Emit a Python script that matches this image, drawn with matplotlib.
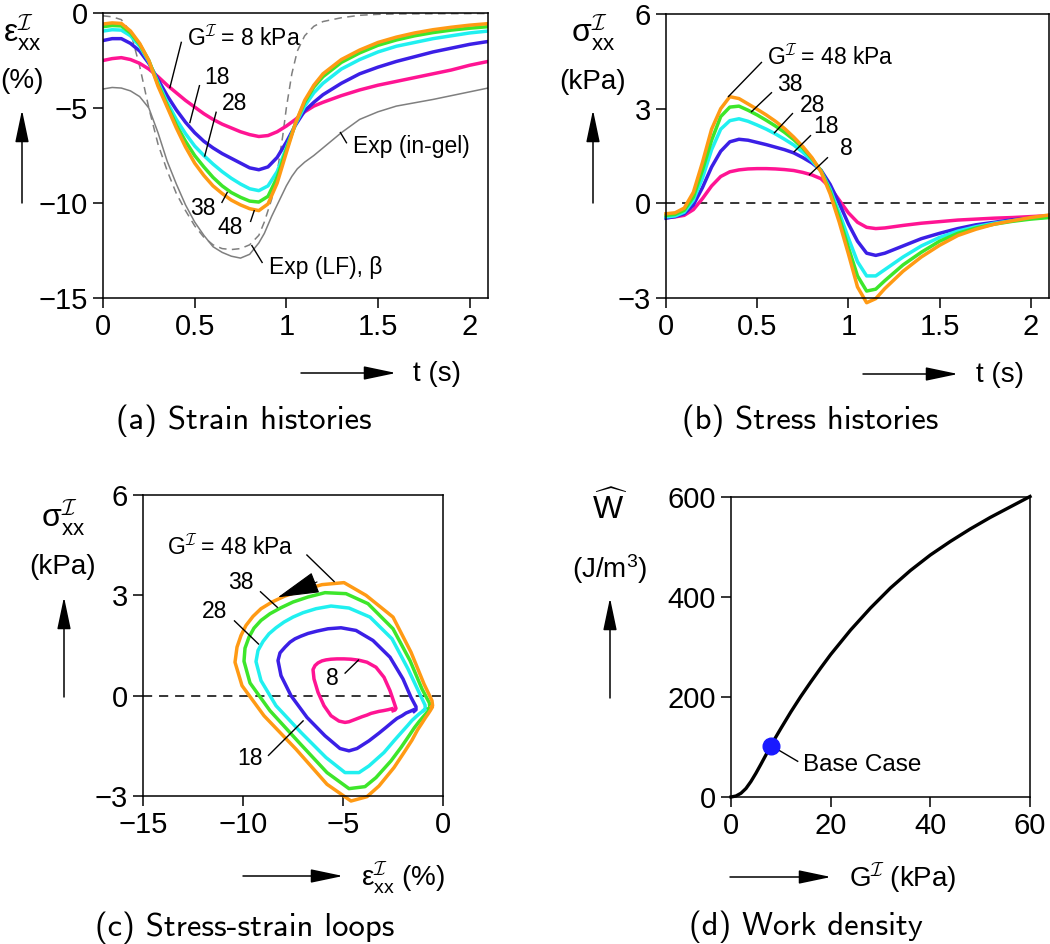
import numpy as np
import matplotlib
matplotlib.use('Agg')
import matplotlib.pyplot as plt
from matplotlib.patches import FancyArrowPatch

plt.rcParams['font.family'] = ['Liberation Sans', 'DejaVu Sans']
plt.rcParams['mathtext.fontset'] = 'custom'
plt.rcParams['mathtext.rm'] = 'Liberation Sans'
plt.rcParams['mathtext.it'] = 'Liberation Sans:italic'
plt.rcParams['mathtext.bf'] = 'Liberation Sans:bold'
plt.rcParams['mathtext.sf'] = 'Liberation Sans'
plt.rcParams['mathtext.cal'] = 'cmsy10'

# ---------------- data ----------------
t = [0, 0.05, 0.1, 0.15, 0.2, 0.25, 0.3, 0.35, 0.4, 0.45, 0.5, 0.55, 0.6, 0.65, 0.7,
     0.75, 0.8, 0.85, 0.9, 0.95, 1.0, 1.05, 1.1, 1.15, 1.2, 1.3, 1.4, 1.5, 1.6, 1.7,
     1.8, 1.9, 2.0, 2.1]

G_values = [8, 18, 28, 38, 48]

strain_8 = [-2.5, -2.4, -2.35, -2.45, -2.65, -2.95, -3.35, -3.8, -4.2, -4.6, -4.95, -5.3, -5.6,
            -5.85, -6.05, -6.25, -6.4, -6.5, -6.45, -6.25, -5.95, -5.6, -5.2, -4.9, -4.7, -4.35,
            -4.05, -3.8, -3.6, -3.4, -3.2, -3.0, -2.75, -2.55]
strain_18 = [-1.45, -1.35, -1.35, -1.6, -2.0, -2.65, -3.5, -4.35, -5.1, -5.75, -6.3, -6.75, -7.1,
             -7.4, -7.65, -7.9, -8.15, -8.25, -8.1, -7.6, -6.8, -5.9, -5.15, -4.7, -4.3, -3.7,
             -3.2, -2.85, -2.55, -2.3, -2.05, -1.85, -1.65, -1.5]
strain_28 = [-0.95, -0.88, -0.9, -1.2, -1.75, -2.55, -3.65, -4.7, -5.6, -6.35, -7.0, -7.5, -7.95,
             -8.35, -8.7, -9.0, -9.25, -9.35, -9.1, -8.35, -7.1, -5.85, -4.9, -4.2, -3.7, -2.95,
             -2.45, -2.05, -1.75, -1.55, -1.35, -1.2, -1.05, -0.95]
strain_38 = [-0.72, -0.66, -0.68, -1.05, -1.65, -2.5, -3.75, -4.85, -5.9, -6.75, -7.5, -8.1, -8.65,
             -9.1, -9.45, -9.7, -9.9, -9.95, -9.65, -8.65, -7.2, -5.8, -4.7, -3.9, -3.35, -2.6,
             -2.1, -1.7, -1.42, -1.2, -1.03, -0.9, -0.8, -0.72]
strain_48 = [-0.58, -0.52, -0.55, -0.95, -1.6, -2.5, -3.85, -4.95, -6.05, -7.05, -7.9, -8.55, -9.1,
             -9.5, -9.85, -10.1, -10.3, -10.4, -10.05, -8.95, -7.35, -5.8, -4.6, -3.8, -3.2, -2.45,
             -1.95, -1.55, -1.27, -1.05, -0.88, -0.75, -0.64, -0.56]

stress_8 = [-0.45, -0.43, -0.38, -0.2, 0.15, 0.55, 0.85, 1.0, 1.06, 1.09, 1.1, 1.1, 1.09, 1.07,
            1.04, 0.98, 0.9, 0.78, 0.5, 0.1, -0.3, -0.6, -0.76, -0.8, -0.78, -0.7, -0.63, -0.58,
            -0.53, -0.5, -0.47, -0.45, -0.42, -0.39]
stress_18 = [-0.47, -0.42, -0.33, -0.05, 0.5, 1.15, 1.65, 1.95, 2.03, 2.0, 1.93, 1.86, 1.78, 1.7,
             1.6, 1.45, 1.28, 1.05, 0.6, 0.0, -0.65, -1.2, -1.58, -1.65, -1.58, -1.35, -1.12,
             -0.95, -0.8, -0.68, -0.6, -0.52, -0.47, -0.43]
stress_28 = [-0.43, -0.4, -0.28, 0.1, 0.8, 1.7, 2.35, 2.62, 2.68, 2.6, 2.48, 2.35, 2.2, 2.03,
             1.85, 1.62, 1.35, 1.02, 0.45, -0.3, -1.1, -1.85, -2.3, -2.3, -2.1, -1.7, -1.35,
             -1.08, -0.88, -0.74, -0.63, -0.55, -0.48, -0.43]
stress_38 = [-0.38, -0.35, -0.22, 0.2, 1.05, 2.0, 2.75, 3.05, 3.08, 2.95, 2.8, 2.63, 2.45, 2.25,
             2.02, 1.75, 1.42, 1.03, 0.38, -0.45, -1.4, -2.3, -2.78, -2.72, -2.45, -1.95, -1.55,
             -1.2, -0.95, -0.78, -0.66, -0.57, -0.5, -0.45]
stress_48 = [-0.33, -0.3, -0.15, 0.35, 1.3, 2.35, 3.0, 3.38, 3.32, 3.15, 2.98, 2.8, 2.6, 2.37,
             2.1, 1.8, 1.45, 1.0, 0.3, -0.6, -1.6, -2.65, -3.15, -3.02, -2.7, -2.15, -1.7, -1.33,
             -1.02, -0.82, -0.66, -0.55, -0.45, -0.37]

t_exp = [0, 0.05, 0.1, 0.15, 0.2, 0.25, 0.3, 0.35, 0.4, 0.45, 0.5, 0.55, 0.6, 0.65, 0.7, 0.75,
         0.8, 0.85, 0.88, 0.92, 0.95, 0.98, 1.0, 1.03, 1.06, 1.1, 1.15, 1.2, 1.3, 1.4, 1.5,
         1.6, 1.8, 2.0, 2.1]
exp_ingel = [-4.0, -3.92, -3.95, -4.1, -4.4, -5.0, -6.3, -7.8, -9.0, -10.1, -11.0, -11.7, -12.3,
             -12.6, -12.8, -12.9, -12.7, -12.1, -11.6, -10.7, -10.1, -9.5, -9.1, -8.6, -8.2,
             -7.85, -7.5, -7.1, -6.3, -5.6, -5.2, -4.9, -4.55, -4.15, -3.95]
exp_lf = [-0.15, -0.2, -0.35, -1.0, -2.8, -5.0, -6.9, -8.3, -9.5, -10.4, -11.2, -11.8, -12.2,
          -12.4, -12.45, -12.4, -12.2, -11.7, -11.0, -9.8, -8.4, -6.5, -5.0, -3.2, -2.0, -1.2,
          -0.7, -0.45, -0.25, -0.12, -0.07, -0.05, -0.04, -0.03, -0.03]

G_work = [0, 1, 2, 3, 4, 5, 6, 7, 8, 9, 10, 12, 14, 16, 18, 20, 24, 28, 32, 36, 40, 44, 48,
          52, 56, 60]
W_work = [0, 2, 7.5, 17, 31, 47.5, 65.5, 84, 102.5, 120, 137, 170, 201, 230, 258, 285, 334,
          378, 418, 453, 484, 511, 536, 559, 580, 601]
base_G, base_W = 8, 103

strains = [strain_8, strain_18, strain_28, strain_38, strain_48]
stresses = [stress_8, stress_18, stress_28, stress_38, stress_48]
colors = ['#ff1493', '#3b1fe6', '#20f0f0', '#3de62a', '#ff9a14']

# ---------------- layout helpers ----------------
FW, FH = 1050, 944
fig = plt.figure(figsize=(FW / 100, FH / 100), dpi=100)


def rect(l, r, t_, b):
    return [l / FW, 1 - b / FH, (r - l) / FW, (b - t_) / FH]


def P(x, y):
    return (x / FW, 1 - y / FH)


def style(ax):
    for s in ax.spines.values():
        s.set_linewidth(1.1)
    ax.tick_params(direction='out', length=7, width=1.1, labelsize=21, pad=4)


def farrow(x0, y0, x1, y1):
    fig.add_artist(FancyArrowPatch(P(x0, y0), P(x1, y1), transform=fig.transFigure,
                                   arrowstyle='-|>,head_length=2.0,head_width=0.42',
                                   mutation_scale=10, lw=1.1, color='k',
                                   shrinkA=0, shrinkB=0))


def leader(ax, x0, y0, x1, y1):
    ax.plot([x0, x1], [y0, y1], color='k', lw=1.0, solid_capstyle='butt')


ANN = 16.5
LAB = 20
SYM = 23
CAP = 23.5
eps_lab = r'$\mathrm{\varepsilon}^{\mathcal{I}}_{\mathrm{xx}}$'
sig_lab = r'$\mathrm{\sigma}^{\mathcal{I}}_{\mathrm{xx}}$'
G_lab = r'$\mathrm{G}^{\mathcal{I}}$'

# ---------------- (a) strain histories ----------------
axa = fig.add_axes(rect(103, 488, 13, 298))
style(axa)
axa.plot(t_exp, exp_ingel, color='#7f7f7f', lw=1.1)
axa.plot(t_exp, exp_lf, color='#7f7f7f', lw=1.1, ls=(0, (5, 3.5)))
for s, c in zip(strains, colors):
    axa.plot(t, s, color=c, lw=2.5)
axa.set_xlim(0, 2.1)
axa.set_ylim(-15, 0)
axa.set_xticks([0, 0.5, 1, 1.5, 2])
axa.set_xticklabels(['0', '0.5', '1', '1.5', '2'])
axa.set_yticks([0, -5, -10, -15])

axa.text(0.457, -1.29, G_lab + ' = 8 kPa', fontsize=ANN, ha='left', va='center')
leader(axa, 0.428, -1.51, 0.364, -3.96)
axa.text(0.62, -3.39, '18', fontsize=ANN, ha='center', va='center')
leader(axa, 0.527, -3.79, 0.473, -5.8)
axa.text(0.717, -4.76, '28', fontsize=ANN, ha='center', va='center')
leader(axa, 0.618, -5.19, 0.554, -7.56)
axa.text(0.546, -10.3, '38', fontsize=ANN, ha='center', va='center')
leader(axa, 0.647, -10.0, 0.679, -9.42)
axa.text(0.693, -11.3, '48', fontsize=ANN, ha='center', va='center')
leader(axa, 0.804, -11.0, 0.826, -10.37)
axa.text(0.908, -13.37, 'Exp (LF), β', fontsize=ANN, ha='left', va='center')
leader(axa, 0.870, -13.16, 0.810, -12.21)
axa.text(1.364, -7.05, 'Exp (in-gel)', fontsize=ANN, ha='left', va='center')
leader(axa, 1.33, -6.86, 1.293, -6.26)

fig.text(*P(22, 33), eps_lab, fontsize=SYM, ha='center', va='center')
fig.text(*P(22, 81), '(%)', fontsize=LAB, ha='center', va='center')
farrow(22, 203, 22, 110)
farrow(301, 373, 396, 373)
fig.text(*P(413, 374), 't (s)', fontsize=LAB, ha='left', va='center')
fig.text(*P(244, 421), '(a) Strain histories', fontsize=CAP, family='cmss10',
         ha='center', va='center')

# ---------------- (b) stress histories ----------------
axb = fig.add_axes(rect(666, 1049, 14, 298))
style(axb)
axb.axhline(0, color='k', lw=1.1, ls=(0, (6, 4.5)))
for s, c in zip(stresses, colors):
    axb.plot(t, s, color=c, lw=2.5, clip_on=False)
axb.set_xlim(0, 2.1)
axb.set_ylim(-3, 6)
axb.set_xticks([0, 0.5, 1, 1.5, 2])
axb.set_xticklabels(['0', '0.5', '1', '1.5', '2'])
axb.set_yticks([-3, 0, 3, 6])

axb.text(0.553, 4.67, G_lab + ' = 48 kPa', fontsize=ANN, ha='left', va='center')
leader(axb, 0.526, 4.48, 0.34, 3.37)
axb.text(0.677, 3.76, '38', fontsize=ANN, ha='center', va='center')
leader(axb, 0.581, 3.52, 0.466, 2.89)
axb.text(0.803, 3.11, '28', fontsize=ANN, ha='center', va='center')
leader(axb, 0.696, 2.86, 0.592, 2.22)
axb.text(0.88, 2.42, '18', fontsize=ANN, ha='center', va='center')
leader(axb, 0.795, 2.16, 0.70, 1.62)
axb.text(0.99, 1.74, '8', fontsize=ANN, ha='center', va='center')
leader(axb, 0.888, 1.46, 0.784, 0.89)

fig.text(*P(593, 33), sig_lab, fontsize=SYM, ha='center', va='center')
fig.text(*P(593, 82), '(kPa)', fontsize=LAB, ha='center', va='center')
farrow(593, 203, 593, 110)
farrow(863, 374, 958, 374)
fig.text(*P(976, 375), 't (s)', fontsize=LAB, ha='left', va='center')
fig.text(*P(810, 421), '(b) Stress histories', fontsize=CAP, family='cmss10',
         ha='center', va='center')

# ---------------- (c) stress-strain loops ----------------
axc = fig.add_axes(rect(143, 443, 495, 796))
style(axc)
axc.axhline(0, color='k', lw=1.1, ls=(0, (6, 4.5)))
for s, st, c in zip(strains, stresses, colors):
    axc.plot(s, st, color=c, lw=2.5, clip_on=False)
axc.set_xlim(-15, 0)
axc.set_ylim(-3, 6)
axc.set_xticks([-15, -10, -5, 0])
axc.set_yticks([-3, 0, 3, 6])
axc.add_patch(FancyArrowPatch((-6.3, 3.4), (-8.26, 2.94),
                              arrowstyle='-|>,head_length=2.7,head_width=0.7',
                              mutation_scale=10, lw=0.8, color='k',
                              shrinkA=0, shrinkB=0, zorder=5))

axc.text(-13.8, 4.46, G_lab + ' = 48 kPa', fontsize=ANN, ha='left', va='center')
leader(axc, -6.83, 4.22, -5.42, 3.40)
axc.text(-10.1, 3.37, '38', fontsize=ANN, ha='center', va='center')
leader(axc, -9.15, 3.12, -8.26, 2.63)
axc.text(-11.41, 2.52, '28', fontsize=ANN, ha='center', va='center')
leader(axc, -10.45, 2.25, -9.2, 1.53)
axc.text(-5.55, 0.51, '8', fontsize=ANN, ha='center', va='center')
leader(axc, -4.92, 0.66, -4.2, 1.08)
axc.text(-9.65, -1.89, '18', fontsize=ANN, ha='center', va='center')
leader(axc, -8.75, -1.8, -6.97, -0.74)

fig.text(*P(63, 517), sig_lab, fontsize=SYM, ha='center', va='center')
fig.text(*P(63, 567), '(kPa)', fontsize=LAB, ha='center', va='center')
farrow(64, 697, 64, 597)
farrow(243, 876, 343, 876)
fig.text(*P(361, 878), eps_lab + ' (%)', fontsize=LAB, ha='left', va='center')
fig.text(*P(245, 928), '(c) Stress-strain loops', fontsize=CAP, family='cmss10',
         ha='center', va='center')

# ---------------- (d) work density ----------------
axd = fig.add_axes(rect(731, 1030, 497, 797))
style(axd)
axd.plot(G_work, W_work, color='k', lw=2.4, clip_on=False)
axd.plot([base_G], [base_W], 'o', color='#1a1aff', ms=12, zorder=5)
axd.set_xlim(0, 60)
axd.set_ylim(0, 600)
axd.set_xticks([0, 20, 40, 60])
axd.set_yticks([0, 200, 400, 600])
axd.text(14.4, 64.7, 'Base Case', fontsize=17.5, ha='left', va='center')
leader(axd, base_G, base_W, 13.5, 70.7)

fig.text(*P(610, 508), r'$\widehat{\mathrm{W}}$', fontsize=SYM, ha='center', va='center')
fig.text(*P(610, 569), '(J/m$^{3}$)', fontsize=LAB, ha='center', va='center')
farrow(610, 698, 610, 598)
farrow(730, 877, 831, 877)
fig.text(*P(849, 878), G_lab + ' (kPa)', fontsize=LAB, ha='left', va='center')
fig.text(*P(806, 927), '(d) Work density', fontsize=CAP, family='cmss10',
         ha='center', va='center')

fig.savefig('out.png', dpi=100)
